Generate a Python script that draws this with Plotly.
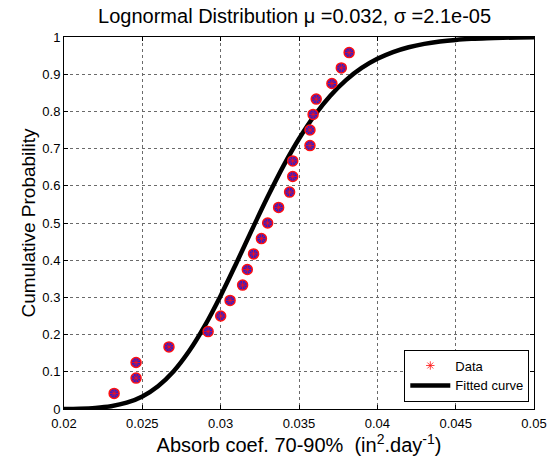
import plotly.graph_objects as go

data_x = [0.0232, 0.0246, 0.0246, 0.0267, 0.0292, 0.0300, 0.0306, 0.0314, 0.0317,
          0.0321, 0.0326, 0.0330, 0.0337, 0.0344, 0.0346, 0.0346, 0.0357, 0.0357,
          0.0359, 0.0361, 0.0371, 0.0377, 0.0382]
data_y = [0.042, 0.083, 0.125, 0.167, 0.208, 0.250, 0.292, 0.333, 0.375, 0.417,
          0.458, 0.500, 0.542, 0.583, 0.625, 0.667, 0.708, 0.750, 0.792, 0.833,
          0.875, 0.917, 0.958]

# Fitted curve
curve_x = [0.020, 0.021, 0.022, 0.023, 0.024, 0.025, 0.026, 0.027, 0.028, 0.029,
           0.030, 0.031, 0.032, 0.033, 0.034, 0.035, 0.036, 0.037, 0.038, 0.039,
           0.040, 0.041, 0.042, 0.043, 0.044, 0.045, 0.046, 0.047, 0.048, 0.049, 0.050]
curve_y = [0.0003, 0.0010, 0.0030, 0.0076, 0.0169, 0.0338, 0.0613, 0.1017, 0.1565, 0.2249,
           0.3047, 0.3920, 0.4821, 0.5703, 0.6528, 0.7264, 0.7897, 0.8421, 0.8841, 0.9167,
           0.9413, 0.9595, 0.9725, 0.9816, 0.9879, 0.9922, 0.9950, 0.9968, 0.9980, 0.9988, 0.9993]

x_ticks = [0.02, 0.025, 0.03, 0.035, 0.04, 0.045, 0.05]
x_tick_labels = ["0.02", "0.025", "0.03", "0.035", "0.04", "0.045", "0.05"]
y_ticks = [0, 0.1, 0.2, 0.3, 0.4, 0.5, 0.6, 0.7, 0.8, 0.9, 1]
y_tick_labels = ["0", "0.1", "0.2", "0.3", "0.4", "0.5", "0.6", "0.7", "0.8", "0.9", "1"]

FONT = "Liberation Sans, Arial, sans-serif"

fig = go.Figure()
fig.add_trace(go.Scatter(
    x=curve_x, y=curve_y, mode="lines", name="Fitted curve",
    line=dict(color="black", width=4.5, shape="spline"),
))
fig.add_trace(go.Scatter(
    x=data_x, y=data_y, mode="markers", showlegend=False, hoverinfo="skip",
    marker=dict(symbol="circle", size=10, color="#2a1fd0",
                line=dict(color="#ff1010", width=1.5)),
))
fig.add_trace(go.Scatter(
    x=data_x, y=data_y, mode="markers", name="Data",
    marker=dict(symbol="asterisk-open", size=7, color="#ff1010",
                line=dict(color="#ff1010", width=0.8)),
))

axis_common = dict(
    showline=True, linecolor="black", linewidth=1, mirror="ticks",
    ticks="inside", ticklen=4, tickcolor="black",
    showgrid=True, gridcolor="#6a6a6a", griddash="dot", gridwidth=1,
    zeroline=False, tickfont=dict(family=FONT, size=13, color="black"),
)

fig.update_layout(
    width=559, height=464,
    margin=dict(l=64, r=19, t=37, b=55),
    paper_bgcolor="white", plot_bgcolor="white",
    title=dict(text="Lognormal Distribution μ =0.032, σ =2.1e-05",
               x=0.527, xanchor="center", y=0.966, yanchor="middle",
               font=dict(family=FONT, size=20, color="black")),
    xaxis=dict(range=[0.02, 0.05], tickvals=x_ticks, ticktext=x_tick_labels,
               ticklabelstandoff=2,
               title=dict(text="Absorb coef. 70-90%  (in<sup>2</sup>.day<sup>-1</sup>)",
                          font=dict(family=FONT, size=20, color="black"), standoff=5),
               **axis_common),
    yaxis=dict(range=[0, 1], tickvals=y_ticks, ticktext=y_tick_labels,
               title=dict(text="Cumulative Probability",
                          font=dict(family=FONT, size=19, color="black"), standoff=1),
               **axis_common),
    legend=dict(x=0.99, y=0.02, xanchor="right", yanchor="bottom",
                bgcolor="white", bordercolor="black", borderwidth=1,
                font=dict(family=FONT, size=13, color="black"),
                traceorder="reversed", itemwidth=40, tracegroupgap=0),
    showlegend=True,
)

fig.write_html("out.html", config={"displayModeBar": False},
               post_script="document.body.style.margin='0';")
